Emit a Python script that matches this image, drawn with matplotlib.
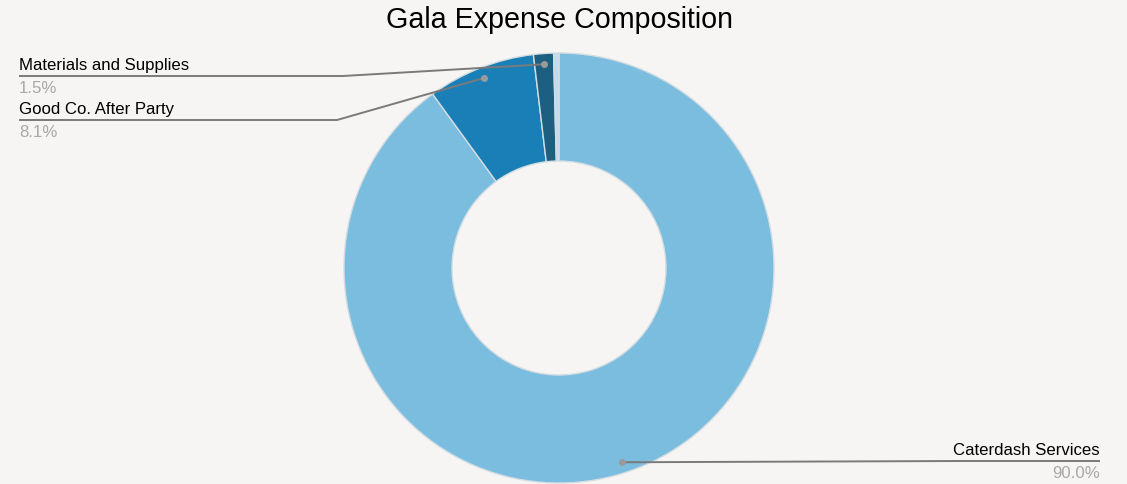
import matplotlib.pyplot as plt
import numpy as np

plt.rcParams['font.family'] = ['Liberation Sans', 'DejaVu Sans']

labels = ["Caterdash Services", "Good Co. After Party", "Materials and Supplies", "Other"]
values = [90.0, 8.1, 1.5, 0.4]
pct_text = ["90.0%", "8.1%", "1.5%", ""]
colors = ["#7bbdde", "#1a7fb6", "#1d5f80", "#c3dced"]

W, H = 1127, 485
bg = "#f6f5f3"

fig = plt.figure(figsize=(W / 100, H / 100), dpi=100, facecolor=bg)
ax = fig.add_axes([0, 0, 1, 1])

cx, cy, R = 559, H - 269, 215
wedges, _ = ax.pie(values, colors=colors, startangle=90, counterclock=False,
                   center=(cx, cy), radius=R, frame=True,
                   wedgeprops=dict(width=108, edgecolor="#d2dde3", linewidth=1))
ax.set_xlim(0, W)
ax.set_ylim(0, H)
ax.set_aspect("equal")
ax.axis("off")

fig.text(560 / W, 1 - 20 / H, "Gala Expense Composition", ha="center", va="center",
         fontsize=20.6, color="#000000")

# label placement: (text x, label line y in pixel coords, alignment, bend x)
label_spec = {
    0: (1100, 462, "right", 960),
    1: (19, 121, "left", 337),
    2: (19, 77, "left", 343),
}
line_col = "#7a7a7a"
for i, (tx, ly, ha, bx) in label_spec.items():
    w = wedges[i]
    mid = np.deg2rad((w.theta1 + w.theta2) / 2)
    dx = cx + 0.95 * R * np.cos(mid)
    dy = cy + 0.95 * R * np.sin(mid)
    ly = H - ly
    ax.plot([tx, bx, dx], [ly, ly, dy], color=line_col, lw=1.4, solid_capstyle="butt")
    ax.plot(dx, dy, "o", color="#9a9a9a", ms=5, mec="none")
    ax.text(tx, ly + 4, labels[i], ha=ha, va="bottom", fontsize=12.1, color="#000000")
    ax.text(tx, ly - 4, pct_text[i], ha=ha, va="top", fontsize=12.1, color="#a8a8a8")

fig.savefig("out.png", dpi=100, facecolor=bg)
